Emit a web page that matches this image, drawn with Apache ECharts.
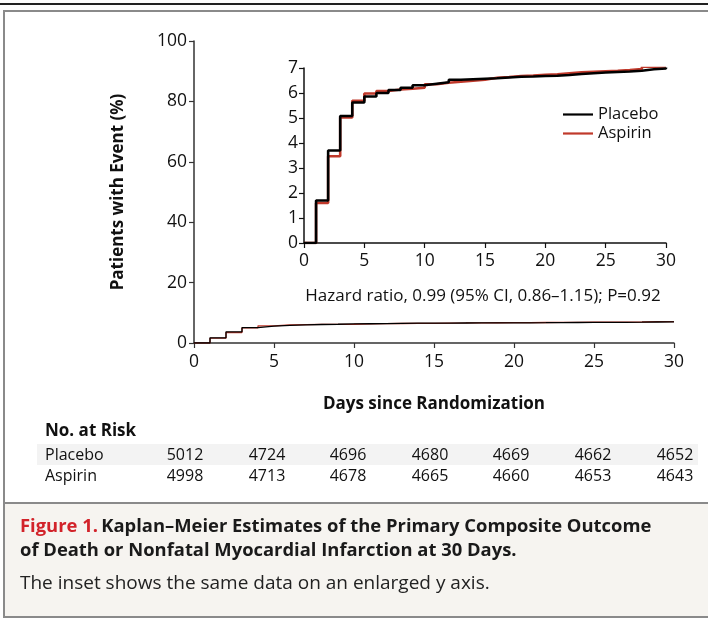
<!DOCTYPE html>
<html>
<head>
<meta charset="utf-8">
<script src="https://cdn.jsdelivr.net/npm/echarts@6/dist/echarts.min.js"></script>
<style>
html,body{margin:0;padding:0;background:#fff;}
#chart{width:708px;height:619px;}
</style>
</head>
<body>
<div id="chart"></div>
<script>
// ---- data ----
const days = [0,1,2,3,4,5,6,7,8,9,10,11,12,13,14,15,16,17,18,19,20,21,22,23,24,25,26,27,28,29,30];
const placebo = [0,1.70,3.70,5.08,5.62,5.86,6.00,6.12,6.21,6.31,6.37,6.43,6.53,6.55,6.57,6.59,6.62,6.65,6.66,6.68,6.69,6.72,6.76,6.79,6.82,6.84,6.86,6.89,6.95,6.98,7.02];
const aspirin = [0,1.60,3.47,5.02,5.69,5.98,6.08,6.14,6.17,6.21,6.35,6.41,6.45,6.49,6.53,6.61,6.64,6.68,6.70,6.73,6.75,6.79,6.83,6.85,6.87,6.89,6.92,6.96,7.05,7.06,7.08];
const riskDays = [0,5,10,15,20,25,30];
const riskPlacebo = [5012,4724,4696,4680,4669,4662,4652];
const riskAspirin = [4998,4713,4678,4665,4660,4653,4643];
const seriesNames = ['Placebo','Aspirin'];
const hazardText = 'Hazard ratio, 0.99 (95% CI, 0.86\u20131.15); P=0.92';
const xTitle = 'Days since Randomization';
const yTitle = 'Patients with Event (%)';
const captionRed = 'Figure 1.';
const captionBold1 = 'Kaplan\u2013Meier Estimates of the Primary Composite Outcome';
const captionBold2 = 'of Death or Nonfatal Myocardial Infarction at 30 Days.';
const captionNote = 'The inset shows the same data on an enlarged y axis.';

const FONT = '"Open Sans", "Noto Sans", sans-serif';
const BLACK = '#000000';
const RED = '#c0392b';

function pairs(ys){ return days.map((d,i)=>[d, ys[i]]); }

const chart = echarts.init(document.getElementById('chart'), null, {renderer:'canvas', width:708, height:619});

const mainLeft = 194, mainWidth = 480;

const graphics = [];
// top rule
graphics.push({type:'line', shape:{x1:0,y1:4,x2:708,y2:4}, style:{stroke:'#222', lineWidth:2}, z:-1});
// outer box
graphics.push({type:'rect', shape:{x:4,y:11,width:720,height:606}, style:{fill:'#ffffff', stroke:'#8a8a8a', lineWidth:2}, z:-10});
// caption band
graphics.push({type:'rect', shape:{x:4,y:503,width:720,height:114}, style:{fill:'#f6f4f0', stroke:'#8a8a8a', lineWidth:2}, z:-9});
// risk row shading
graphics.push({type:'rect', shape:{x:37,y:444,width:661,height:21}, style:{fill:'#f3f3f3'}, z:-5});
// No. at risk title
graphics.push({type:'text', x:45, y:431, style:{text:'No. at Risk', font:'bold 17px '+FONT, fill:'#111', textVerticalAlign:'middle'}});
graphics.push({type:'text', x:45, y:455, style:{text:seriesNames[0], font:'16px '+FONT, fill:'#111', textVerticalAlign:'middle'}});
graphics.push({type:'text', x:45, y:476, style:{text:seriesNames[1], font:'16px '+FONT, fill:'#111', textVerticalAlign:'middle'}});
const colCenters = [185,267,348,430,511,593,675];
riskDays.forEach((d,i)=>{
  graphics.push({type:'text', x:colCenters[i], y:455, style:{text:String(riskPlacebo[i]), font:'16px '+FONT, fill:'#111', textAlign:'center', textVerticalAlign:'middle'}});
  graphics.push({type:'text', x:colCenters[i], y:476, style:{text:String(riskAspirin[i]), font:'16px '+FONT, fill:'#111', textAlign:'center', textVerticalAlign:'middle'}});
});
// hazard text
graphics.push({type:'text', x:483, y:296, style:{text:hazardText, font:'17px '+FONT, fill:'#111', textAlign:'center', textVerticalAlign:'middle'}});
// caption
graphics.push({type:'text', x:20, y:527, style:{
  rich:{r:{fill:'#d2232a', font:'bold 18.4px '+FONT}, b:{fill:'#1a1a1a', font:'bold 18.4px '+FONT}},
  text:'{r|'+captionRed+'} {b|'+captionBold1+'}', textVerticalAlign:'middle'}});
graphics.push({type:'text', x:20, y:551, style:{text:captionBold2, font:'bold 18.4px '+FONT, fill:'#1a1a1a', textVerticalAlign:'middle'}});
graphics.push({type:'text', x:20, y:584, style:{text:captionNote, font:'19px '+FONT, fill:'#222', textVerticalAlign:'middle'}});

const axisLabel = {color:'#111', fontFamily:FONT, fontSize:17.5};

const option = {
  animation:false,
  backgroundColor:'#ffffff',
  textStyle:{fontFamily:FONT},
  graphic:graphics,
  legend:{
    data:seriesNames,
    left:558, top:101, orient:'vertical', itemGap:2,
    itemWidth:30, itemHeight:10,
    textStyle:{fontFamily:FONT, fontSize:16.5, color:'#111', padding:[0,0,0,0]},
    icon:'path://M0,4 L30,4 L30,6.2 L0,6.2 Z'
  },
  grid:[
    {left:mainLeft, top:41, width:mainWidth, height:302, containLabel:false},
    {left:304, top:68, width:362, height:175, containLabel:false}
  ],
  xAxis:[
    {gridIndex:0, type:'value', min:0, max:30, interval:5,
     name:xTitle, nameLocation:'middle', nameGap:53,
     nameTextStyle:{fontFamily:FONT, fontSize:17, fontWeight:'bold', color:'#111'},
     axisLine:{lineStyle:{color:'#333', width:1.5}},
     axisTick:{show:true, length:5, lineStyle:{color:'#333', width:1.2}},
     axisLabel:Object.assign({margin:10}, axisLabel),
     splitLine:{show:false}},
    {gridIndex:1, type:'value', min:0, max:30, interval:5,
     axisLine:{lineStyle:{color:'#111', width:1.5}},
     axisTick:{show:true, length:5, lineStyle:{color:'#111', width:1.2}},
     axisLabel:Object.assign({margin:9}, axisLabel),
     splitLine:{show:false}},
  ],
  yAxis:[
    {gridIndex:0, type:'value', min:0, max:100, interval:20,
     name:yTitle, nameLocation:'middle', nameGap:67, nameRotate:90,
     nameTextStyle:{fontFamily:FONT, fontSize:17, fontWeight:'bold', color:'#111'},
     axisLine:{show:true, lineStyle:{color:'#333', width:1.5}},
     axisTick:{show:true, length:5, lineStyle:{color:'#333', width:1.2}},
     axisLabel:Object.assign({margin:7}, axisLabel),
     splitLine:{show:false}},
    {gridIndex:1, type:'value', min:0, max:7, interval:1,
     axisLine:{show:true, lineStyle:{color:'#111', width:1.5}},
     axisTick:{show:true, length:5, lineStyle:{color:'#111', width:1.2}},
     axisLabel:Object.assign({margin:6}, axisLabel),
     splitLine:{show:false}}
  ],
  series:[
    {name:seriesNames[1], type:'line', xAxisIndex:0, yAxisIndex:0, step:'end', showSymbol:false, symbol:'none',
     data:pairs(aspirin), lineStyle:{color:RED, width:1.3}, itemStyle:{color:RED}, z:2},
    {name:seriesNames[0], type:'line', xAxisIndex:0, yAxisIndex:0, step:'end', showSymbol:false, symbol:'none',
     data:pairs(placebo), lineStyle:{color:BLACK, width:1.3}, itemStyle:{color:BLACK}, z:3},
    {name:seriesNames[1], type:'line', xAxisIndex:1, yAxisIndex:1, step:'end', showSymbol:false, symbol:'none',
     data:pairs(aspirin), lineStyle:{color:RED, width:2.6}, itemStyle:{color:RED}, z:2},
    {name:seriesNames[0], type:'line', xAxisIndex:1, yAxisIndex:1, step:'end', showSymbol:false, symbol:'none',
     data:pairs(placebo), lineStyle:{color:BLACK, width:2.6}, itemStyle:{color:BLACK}, z:3}
  ]
};
chart.setOption(option);
</script>
</body>
</html>
